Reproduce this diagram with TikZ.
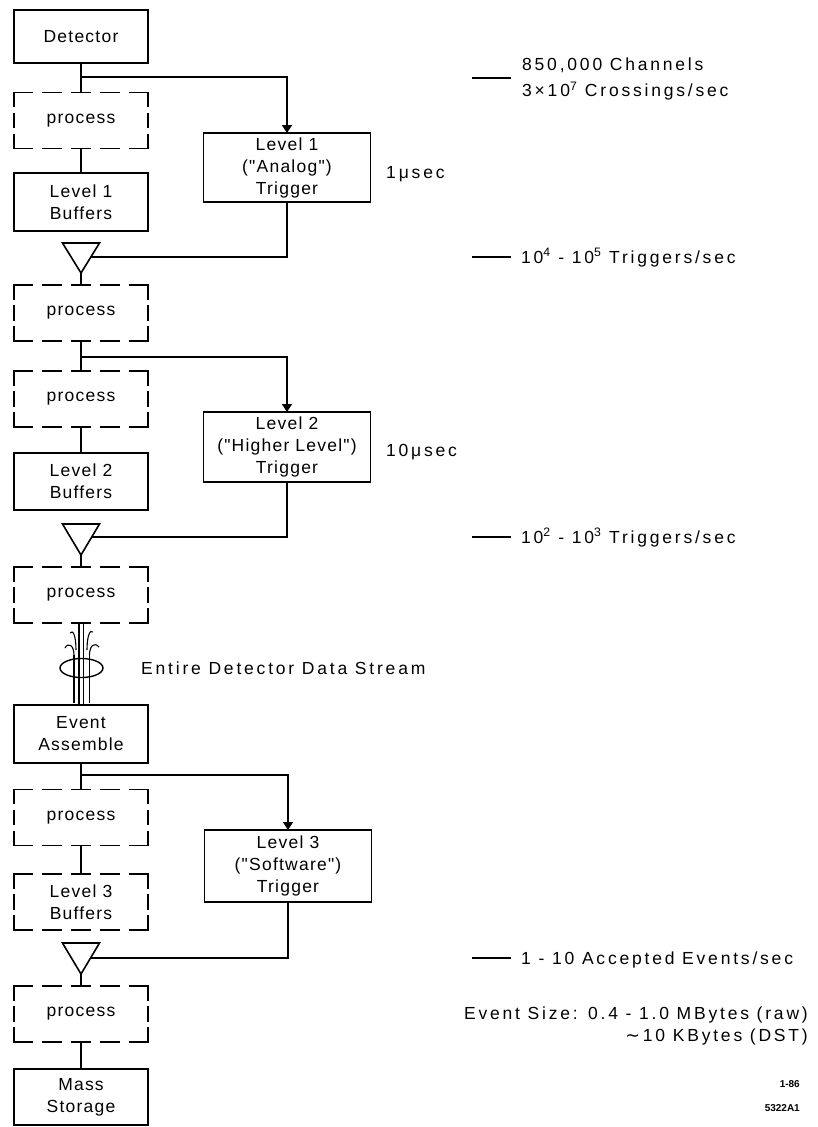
\documentclass[tikz,border=0pt]{standalone}
\usepackage{fontspec}
\setmainfont{Liberation Sans}
\newfontfamily\boxfont[LetterSpace=7]{Liberation Sans}
\newfontfamily\labfont[LetterSpace=16]{Liberation Sans}
\newfontfamily\tinyfont{Liberation Sans}
\newfontfamily\symfont{DejaVu Sans}
\usetikzlibrary{arrows.meta,calc}
\tikzset{
  conn/.style={line width=1.6pt},
  arr/.style={conn, -{Triangle[width=10pt,length=8pt]}},
  sbox/.style={draw, line width=1.6pt, minimum width=134pt, inner sep=0pt, outer sep=0pt,
    align=center, font=\boxfont\fontsize{17.5}{22}\selectfont},
  dbox/.style={minimum width=134pt, minimum height=56pt, inner sep=0pt, outer sep=0pt,
    align=center, font=\boxfont\fontsize{17.5}{22}\selectfont},
  tbox/.style={draw, line width=1.6pt, minimum width=167pt, inner sep=0pt, outer sep=0pt,
    align=center, font=\boxfont\fontsize{17.5}{22}\selectfont},
  hd/.style={line width=1.6pt, dash pattern=on 18pt off 11pt, line cap=rect},
  vd/.style={line width=1.6pt, dash pattern=on 14pt off 7pt, line cap=rect},
  lab/.style={font=\labfont\fontsize{17.5}{26}\selectfont, inner sep=0pt, align=left},
  tag/.style={font=\tinyfont\bfseries\fontsize{10}{11}\selectfont, inner sep=0pt, anchor=base east},
  bundle/.style={line width=1.1pt},
}
\newcommand\dframe[1]{%
  \draw[hd] (#1.north west) -- (#1.north east);
  \draw[hd] (#1.south west) -- (#1.south east);
  \draw[vd] (#1.north west) -- (#1.south west);
  \draw[vd] (#1.north east) -- (#1.south east);}
\begin{document}
\begin{tikzpicture}[x=1pt,y=-1pt]
\path[fill=white,use as bounding box] (0,0) rectangle (817,1127);

% left column
\node[sbox, minimum height=53pt] (det) at (81,36.5) {Detector};
\node[dbox] (p1) at (81,120.5) {process};
\node[sbox, minimum height=58pt] (buf1) at (81,202) {Level 1\\Buffers};
\node[tbox, minimum height=69pt] (trig1) at (287,167.5) {Level 1\\("Analog")\\Trigger};
\node[dbox] (p2) at (81,313) {process};
\node[dbox] (p3) at (81,399) {process};
\node[sbox, minimum height=57pt] (buf2) at (81,481.5) {Level 2\\Buffers};
\node[tbox, minimum height=70pt] (trig2) at (287,447) {Level 2\\("Higher Level")\\Trigger};
\node[dbox] (p4) at (81,595) {process};
\node[sbox, minimum height=58pt] (ev) at (81,734) {Event\\Assemble};
\node[dbox] (p5) at (81,817.5) {process};
\node[tbox, minimum height=72pt] (trig3) at (288,866) {Level 3\\("Software")\\Trigger};
\node[dbox] (l3b) at (81,902) {Level 3\\Buffers};
\node[dbox] (p6) at (81,1014) {process};
\node[sbox, minimum height=56pt] (ms) at (81,1097) {Mass\\Storage};
\dframe{p1}\dframe{p2}\dframe{p3}\dframe{p4}\dframe{p5}\dframe{l3b}\dframe{p6}

% gates (triangles)
\coordinate (t1L) at (62.5,243); \coordinate (t1R) at (99.5,243); \coordinate (t1A) at (81,273);
\coordinate (t2L) at (62.5,524); \coordinate (t2R) at (99.5,524); \coordinate (t2A) at (81,555);
\coordinate (t3L) at (62.5,943); \coordinate (t3R) at (99.5,943); \coordinate (t3A) at (81,974);
\draw[conn] (t1L) -- (t1R) -- (t1A) -- cycle;
\draw[conn] (t2L) -- (t2R) -- (t2A) -- cycle;
\draw[conn] (t3L) -- (t3R) -- (t3A) -- cycle;
\coordinate (g1) at ($(t1R)!0.467!(t1A)$);
\coordinate (g2) at ($(t2R)!0.42!(t2A)$);
\coordinate (g3) at ($(t3R)!0.48!(t3A)$);

% connectors
\coordinate (b1) at (81,77);
\coordinate (b2) at (81,357);
\coordinate (b3) at (81,775);
\draw[conn] (det.south) -- (p1.north);
\draw[arr] (b1) -| (trig1.north);
\draw[conn] (p1.south) -- (buf1.north);
\draw[conn] (trig1.south) |- (g1);
\draw[conn] (t1A) -- (p2.north);
\draw[conn] (p2.south) -- (p3.north);
\draw[arr] (b2) -| (trig2.north);
\draw[conn] (p3.south) -- (buf2.north);
\draw[conn] (trig2.south) |- (g2);
\draw[conn] (t2A) -- (p4.north);
\draw[conn] (ev.south) -- (p5.north);
\draw[arr] (b3) -| (trig3.north);
\draw[conn] (p5.south) -- (l3b.north);
\draw[conn] (trig3.south) |- (g3);
\draw[conn] (t3A) -- (p6.north);
\draw[conn] (p6.south) -- (ms.north);

% data stream bundle
\draw[bundle] (79,623) -- (79,705);
\draw[bundle] (83.5,623) -- (83.5,705);
\draw[bundle] (74,655) -- (74,703);
\draw[bundle] (89.5,655) -- (89.5,703);
\draw[bundle] (74,655) .. controls (74,645) and (68,642) .. (65,648);
\draw[bundle] (76,650) .. controls (76,636) and (73,629) .. (70,633);
\draw[bundle] (87,650) .. controls (87,636) and (90,629) .. (93,632);
\draw[bundle] (89.5,655) .. controls (89.5,645) and (95,642) .. (99,647);
\draw[line width=1.4pt] (81.5,668) ellipse [x radius=21.5pt, y radius=9.5pt];
\node[lab, anchor=base west] (stream) at (141,674) {Entire Detector Data Stream};

% timing labels
\node[lab, anchor=base west] (us1) at (386,178) {1\,μsec};
\node[lab, anchor=base west] (us2) at (386,456) {10μsec};

% rate labels
\coordinate (d1a) at (472,78);  \coordinate (d1b) at (511,78);
\coordinate (d2a) at (472,257); \coordinate (d2b) at (511,257);
\coordinate (d3a) at (472,537); \coordinate (d3b) at (511,537);
\coordinate (d4a) at (472,958); \coordinate (d4b) at (511,958);
\draw[conn] (d1a) -- (d1b);
\draw[conn] (d2a) -- (d2b);
\draw[conn] (d3a) -- (d3b);
\draw[conn] (d4a) -- (d4b);
\node[lab, anchor=west] (r1) at (522,79) {850,000 Channels\\3×10\textsuperscript{7} Crossings/sec};
\node[lab, anchor=base west] (r2) at (521,263) {10\textsuperscript{4} - 10\textsuperscript{5} Triggers/sec};
\node[lab, anchor=base west] (r3) at (521,543) {10\textsuperscript{2} - 10\textsuperscript{3} Triggers/sec};
\node[lab, anchor=base west] (r4) at (521,964) {1 - 10 Accepted Events/sec};
\node[lab, anchor=base east] (sz1) at (808,1019) {Event Size: 0.4 - 1.0 MBytes (raw)};
\node[lab, anchor=base east] (sz2) at (808,1041) {{\symfont ∼}\,10 KBytes (DST)};
\node[tag] (tg1) at (800,1087) {1-86};
\node[tag] (tg2) at (800,1111) {5322A1};
\end{tikzpicture}
\end{document}
